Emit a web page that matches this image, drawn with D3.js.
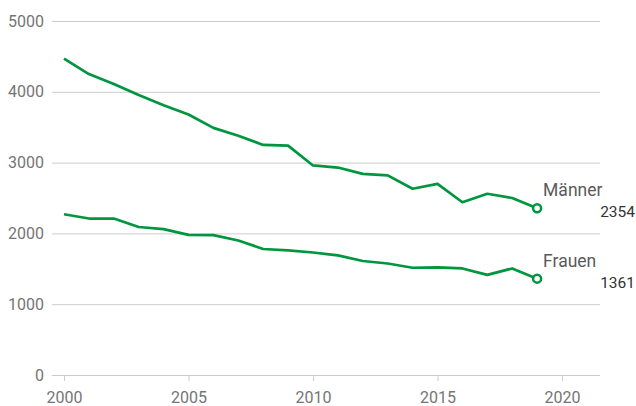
<!DOCTYPE html>
<html><head><meta charset="utf-8">
<script src="https://cdn.jsdelivr.net/npm/d3@7"></script>
<style>
body{margin:0;background:#fff;}
svg{display:block;font-family:Roboto,sans-serif;}
</style></head>
<body><svg id="c" width="636" height="406"></svg>
<script>
const years = [2000,2001,2002,2003,2004,2005,2006,2007,2008,2009,2010,2011,2012,2013,2014,2015,2016,2017,2018,2019];
const maenner = [4470,4250,4110,3955,3810,3680,3490,3380,3250,3240,2960,2930,2840,2820,2630,2700,2440,2560,2500,2354];
const frauen = [2270,2210,2210,2090,2060,1980,1975,1900,1780,1760,1730,1690,1610,1575,1515,1520,1505,1415,1505,1361];
const seriesNames = ["Männer","Frauen"];
const yTicks = [0,1000,2000,3000,4000,5000];
const xTicks = [2000,2005,2010,2015,2020];

const svg = d3.select("#c");
const green = "#00963f";
const x = d3.scaleLinear().domain([2000,2020]).range([64,562]);
const y = d3.scaleLinear().domain([0,5000]).range([375,21]);
const gridL = 52, gridR = 600;

// y grid + labels
const ya = svg.append("g").attr("transform",`translate(${gridL},0)`)
  .call(d3.axisLeft(y).tickValues(yTicks).tickSize(-(gridR-gridL)).tickPadding(8).tickFormat(d3.format("d")));
ya.select(".domain").remove();
ya.selectAll("line").attr("stroke","#cccccc").attr("stroke-width",1);
ya.selectAll("text").attr("fill","#757575").attr("font-size",16).attr("font-family","Roboto");

// x axis ticks
const xa = svg.append("g").attr("transform",`translate(0,${y(0)})`)
  .call(d3.axisBottom(x).tickValues(xTicks).tickSize(6).tickPadding(11).tickFormat(d3.format("d")));
xa.select(".domain").remove();
xa.selectAll("line").attr("stroke","#cccccc");
xa.selectAll("text").attr("fill","#757575").attr("font-size",16).attr("font-family","Roboto");

const series = [maenner, frauen];
const line = d3.line().x((d,i)=>x(years[i])).y(d=>y(d));
series.forEach((vals,si)=>{
  svg.append("path").datum(vals).attr("d",line)
    .attr("fill","none").attr("stroke",green).attr("stroke-width",2.7)
    .attr("stroke-linejoin","round");
  const last = vals.length-1;
  const cx = x(years[last]), cy = y(vals[last]);
  svg.append("circle").attr("cx",cx).attr("cy",cy).attr("r",4)
    .attr("fill","#fff").attr("stroke",green).attr("stroke-width",2.5);
  svg.append("text").attr("x",cx+6).attr("y",cy-12)
    .attr("fill","#5a5a5a").attr("font-size",17.5).text(seriesNames[si]);
  svg.append("text").attr("x",635).attr("y",cy+9).attr("text-anchor","end")
    .attr("fill","#333").attr("font-size",15.5).text(d3.format("d")(vals[last]));
});
</script></body></html>
